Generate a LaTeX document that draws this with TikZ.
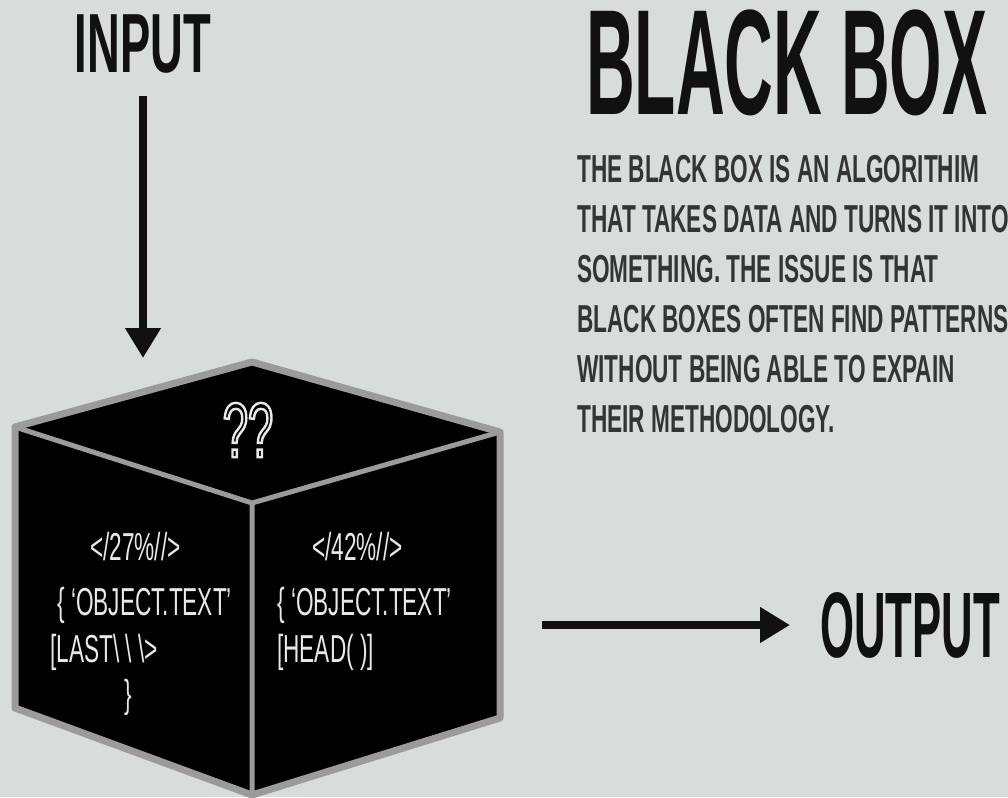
\documentclass[tikz,border=0pt]{standalone}
\usepackage{fontspec}
\usetikzlibrary{arrows.meta,positioning}
\newfontfamily\bodyfont[FakeStretch=0.58]{Liberation Sans}
\newfontfamily\inputfont[FakeStretch=0.54]{Liberation Sans}
\newfontfamily\outputfont[FakeStretch=0.47]{Liberation Sans}
\newfontfamily\titlefont[FakeStretch=0.45]{Liberation Sans}
\newcommand\outlinetext[1]{\special{pdf:literal direct 1 Tr 2.4 w 0.91 0.91 0.91 RG}#1\special{pdf:literal direct 0 Tr}}
\definecolor{bgcol}{RGB}{216,220,219}
\definecolor{inkcol}{RGB}{17,17,17}
\definecolor{paracol}{RGB}{52,52,52}
\definecolor{edgecol}{RGB}{155,155,155}
\definecolor{cubetext}{RGB}{232,232,232}

\begin{document}
\begin{tikzpicture}[x=1pt, y=-1pt,
  heading/.style={text=inkcol, inner sep=0},
  codeline/.style={font=\bodyfont\fontsize{39}{39}\selectfont, text=cubetext, inner sep=0, anchor=base west},
  edge/.style={draw=edgecol, line width=#1, line join=round},
  arr/.style={-{Triangle[length=30pt, width=34pt]}, line width=8pt, draw=inkcol}
]
\useasboundingbox (0,0) rectangle (1008,797);
\clip (0,0) rectangle (1008,797);
\fill[bgcol] (0,0) rectangle (1008,797);

% headings
\node[heading, anchor=north, font=\inputfont\bfseries\fontsize{84}{84}\selectfont] (inputlbl) at (143,15) {INPUT};
\node[heading, anchor=north west, font=\titlefont\bfseries\fontsize{150}{150}\selectfont] (title) at (586,10) {BLACK BOX};
\node[heading, anchor=west, font=\outputfont\bfseries\fontsize{93}{93}\selectfont] (outputlbl) at (820,625) {OUTPUT};

% description
\node[anchor=north west, inner sep=0, align=left, text=paracol,
      font=\bodyfont\bfseries\fontsize{39}{50}\selectfont] (desc) at (577,155)
  {THE BLACK BOX IS AN ALGORITHIM\\
   THAT TAKES DATA AND TURNS IT INTO\\
   SOMETHING. THE ISSUE IS THAT\\
   BLACK BOXES OFTEN FIND PATTERNS\\
   WITHOUT BEING ABLE TO EXPAIN\\
   THEIR METHODOLOGY.};

% cube corners
\coordinate (cT) at (252,362);
\coordinate (cL) at (15,427);
\coordinate (cR) at (500,432);
\coordinate (cC) at (252,503);
\coordinate (cBL) at (15,708);
\coordinate (cBR) at (500,718);
\coordinate (cB) at (252,795);

\fill[black] (cT) -- (cR) -- (cC) -- (cL) -- cycle;
\fill[black] (cL) -- (cC) -- (cB) -- (cBL) -- cycle;
\fill[black] (cC) -- (cR) -- (cBR) -- (cB) -- cycle;
\draw[edge=5pt] (cL) -- (cC) -- (cR) (cC) -- (cB);
\draw[edge=7pt] (cL) -- (cT) -- (cR) -- (cBR) -- (cB) -- (cBL) -- cycle;

\node[inner sep=0, text=black, font=\bodyfont\fontsize{78}{78}\selectfont] (qq) at (248,430) {\outlinetext{??}};

% code on the faces
\node[codeline] (l1) at (90,560) {</27\%//>};
\node[codeline] (l2) at (57,615) {\{ ‘OBJECT.TEXT’};
\node[codeline] (l3) at (50,662) {[LAST\textbackslash\,\textbackslash\,\textbackslash>};
\node[codeline] (l4) at (124,707) {\}};
\node[codeline] (r1) at (312,560) {</42\%//>};
\node[codeline] (r2) at (277,615) {\{ ‘OBJECT.TEXT’};
\node[codeline] (r3) at (277,662) {[HEAD( )]};

% arrows
\coordinate (inTip) at (143,358);
\coordinate (outStart) at (542,625);
\draw[arr, shorten <=22pt] (inputlbl.south) -- (inTip);
\draw[arr, shorten >=30pt] (outStart) -- (outputlbl.west);
\end{tikzpicture}
\end{document}
